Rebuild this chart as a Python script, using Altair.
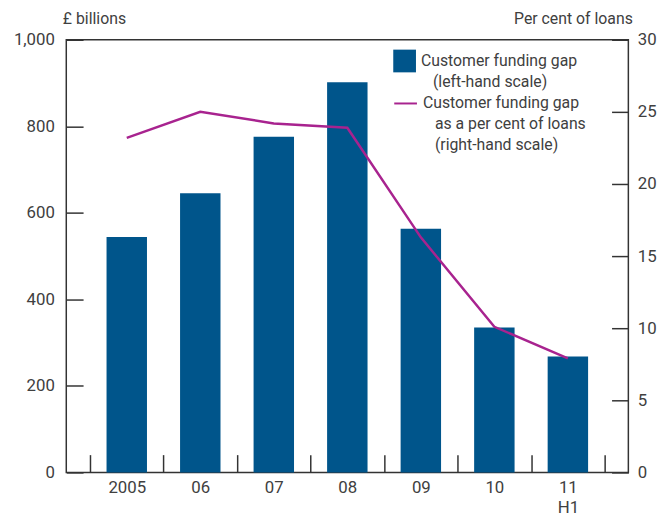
import altair as alt
import pandas as pd

years = ["2005", "06", "07", "08", "09", "10", "11 H1"]
gap_bn = [544, 645, 776, 902, 563, 335, 268]
gap_pct = [23.2, 25.0, 24.2, 23.9, 16.3, 10.1, 7.9]
left_ticks = [0, 200, 400, 600, 800, 1000]
right_ticks = [0, 5, 10, 15, 20, 25, 30]

bar_label = "Customer funding gap|\u2800(left-hand scale)"
line_label = "Customer funding gap|\u2800as a per cent of loans|\u2800(right-hand scale)"

BLUE = "#00558B"
MAGENTA = "#A8238F"
FONT = "Roboto"
TXT = "#404040"
INK = "#333333"

df = pd.DataFrame({"year": years, "bn": gap_bn, "pct": gap_pct,
                   "s1": [bar_label] * len(years), "s2": [line_label] * len(years)})

xscale = alt.Scale(domain=years, paddingInner=0, paddingOuter=0.3226)
xaxis = alt.Axis(title=None, tickBand="extent", offset=-18, tickSize=18, labelPadding=7,
                 labelAngle=0, domain=False, labelExpr="split(datum.label, ' ')",
                 labelLineHeight=21, labelBaseline="top", labelFontSize=17,
                 labelFont=FONT, labelColor=TXT, tickColor=INK, tickWidth=1.5, grid=False)

base = alt.Chart(df)

bars = base.mark_bar(color=BLUE, width=alt.RelativeBandSize(0.55)).encode(
    x=alt.X("year:N", scale=xscale, axis=xaxis, sort=years),
    y=alt.Y("bn:Q", scale=alt.Scale(domain=[0, 1000], nice=False),
            axis=alt.Axis(orient="left", values=left_ticks, format=",d", offset=-17, tickSize=17,
                          labelPadding=12, domain=False, grid=False, tickColor=INK, tickWidth=1.5,
                          labelFont=FONT, labelFontSize=17, labelColor=TXT,
                          title="£ billions", titleAngle=0, titleAlign="left",
                          titleBaseline="alphabetic", titleX=-21, titleY=-16,
                          titleFont=FONT, titleFontSize=16, titleFontWeight="normal",
                          titleColor=TXT)),
    fill=alt.Fill("s1:N", scale=alt.Scale(range=[BLUE]),
                  legend=alt.Legend(title=None, orient="none", legendX=331, legendY=10,
                                    symbolType="square", symbolSize=529, symbolStrokeWidth=0,
                                    labelExpr="split(datum.label, '|')", labelFont=FONT,
                                    labelFontSize=16, labelColor=TXT, labelOffset=5,
                                    labelLimit=400)),
)

line = base.mark_line(strokeWidth=2.5).encode(
    x=alt.X("year:N", scale=xscale, sort=years),
    y=alt.Y("pct:Q", scale=alt.Scale(domain=[0, 30], nice=False),
            axis=alt.Axis(orient="right", values=right_ticks, offset=-17, tickSize=17,
                          labelPadding=9, domain=False, grid=False, tickColor=INK, tickWidth=1.5,
                          labelFont=FONT, labelFontSize=17, labelColor=TXT,
                          title="Per cent of loans", titleAngle=0, titleAlign="right",
                          titleBaseline="alphabetic", titleX=21, titleY=-16,
                          titleFont=FONT, titleFontSize=16, titleFontWeight="normal",
                          titleColor=TXT)),
    stroke=alt.Stroke("s2:N", scale=alt.Scale(range=[MAGENTA]),
                      legend=alt.Legend(title=None, orient="none", legendX=331, legendY=52,
                                        symbolType="stroke", symbolSize=529, symbolStrokeWidth=2,
                                        labelExpr="split(datum.label, '|')", labelFont=FONT,
                                        labelFontSize=16, labelColor=TXT, labelOffset=5,
                                        labelLimit=400)),
)

chart = alt.layer(bars, line).resolve_scale(
    y="independent", fill="independent", stroke="independent"
).properties(
    width=569, height=438,
    padding={"left": 5, "top": 0, "right": 0, "bottom": 0},
).configure(
    background="white",
    style={"guide-label": {"lineHeight": 21}},
).configure_view(
    stroke=INK, strokeWidth=1.5
)

chart.save("out.html", embed_options={"renderer": "svg", "actions": False})
